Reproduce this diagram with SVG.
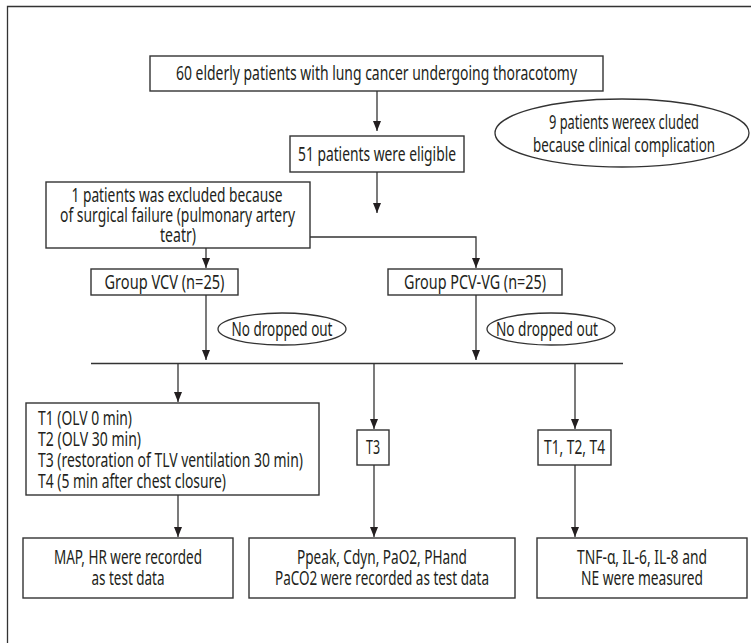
<svg xmlns="http://www.w3.org/2000/svg" width="751" height="643" viewBox="0 0 751 643">
<defs>
<marker id="ah" viewBox="0 0 10 8" refX="10" refY="4" markerWidth="10" markerHeight="8" markerUnits="userSpaceOnUse" orient="auto">
<path d="M0,0 L10,4 L0,8 Z" fill="#231f20"/>
</marker>
</defs>
<style>
.box{fill:#fff;stroke:#333;stroke-width:1.4}
.ell{fill:#fff;stroke:#333;stroke-width:1.3}
.ln{fill:none;stroke:#333;stroke-width:1.3}
.ar{fill:none;stroke:#333;stroke-width:1.3;marker-end:url(#ah)}
text{font-family:"Noto Sans","Liberation Sans",sans-serif;font-size:19px;fill:#231f20}
.c{text-anchor:middle}
</style>
<rect width="751" height="643" fill="#fff"/>
<g id="frame"><path class="ln" d="M7.5,643 V6.5 H751" stroke="#555"/></g>
<g id="connectors">
<line class="ar" x1="377" y1="91" x2="377" y2="131"/>
<line class="ar" x1="377" y1="172" x2="377" y2="213"/>
<line class="ar" x1="206" y1="248" x2="206" y2="268"/>
<polyline class="ar" points="310,237 476,237 476,268"/>
<line class="ar" x1="206" y1="295" x2="206" y2="360"/>
<line class="ar" x1="476" y1="295" x2="476" y2="360"/>
<line class="ln" x1="91" y1="363.5" x2="623" y2="363.5"/>
<line class="ar" x1="178" y1="363.5" x2="178" y2="402"/>
<line class="ar" x1="374" y1="363.5" x2="374" y2="429"/>
<line class="ar" x1="575" y1="363.5" x2="575" y2="429"/>
<line class="ar" x1="178" y1="495" x2="178" y2="537"/>
<line class="ar" x1="374" y1="465" x2="374" y2="537"/>
<line class="ar" x1="575" y1="465" x2="575" y2="537"/>
</g>
<g id="n_start">
<rect class="box" x="150" y="56" width="453" height="35"/>
<text class="c" transform="scale(0.75,1)" x="502" y="80.5" textLength="534.67" lengthAdjust="spacingAndGlyphs">60 elderly patients with lung cancer undergoing thoracotomy</text>
</g>
<g id="n_excl9">
<ellipse class="ell" cx="622" cy="133" rx="127" ry="34"/>
<text class="c" transform="scale(0.75,1)" x="832" y="129.5" textLength="200" lengthAdjust="spacingAndGlyphs">9 patients wereex cluded</text>
<text class="c" transform="scale(0.75,1)" x="832" y="152.5" textLength="242.67" lengthAdjust="spacingAndGlyphs">because clinical complication</text>
</g>
<g id="n_eligible">
<rect class="box" x="290" y="136" width="174" height="36"/>
<text class="c" transform="scale(0.75,1)" x="502.67" y="161" textLength="210.67" lengthAdjust="spacingAndGlyphs">51 patients were eligible</text>
</g>
<g id="n_excl1">
<rect class="box" x="46" y="182" width="264" height="66"/>
<text class="c" transform="scale(0.75,1)" x="236" y="202" textLength="281.33" lengthAdjust="spacingAndGlyphs">1 patients was excluded because</text>
<text class="c" transform="scale(0.75,1)" x="236.67" y="222" textLength="313.33" lengthAdjust="spacingAndGlyphs">of surgical failure (pulmonary artery</text>
<text class="c" transform="scale(0.75,1)" x="237.33" y="242" textLength="48" lengthAdjust="spacingAndGlyphs">teatr)</text>
</g>
<g id="n_vcv">
<rect class="box" x="91" y="269" width="147" height="26"/>
<text class="c" transform="scale(0.75,1)" x="219.33" y="289" textLength="160" lengthAdjust="spacingAndGlyphs">Group VCV (n=25)</text>
</g>
<g id="n_pcv">
<rect class="box" x="388" y="269" width="174" height="26"/>
<text class="c" transform="scale(0.75,1)" x="633.33" y="289" textLength="189.33" lengthAdjust="spacingAndGlyphs">Group PCV-VG (n=25)</text>
</g>
<g id="n_drop1">
<ellipse class="ell" cx="282" cy="329" rx="64" ry="16"/>
<text class="c" transform="scale(0.75,1)" x="376" y="336" textLength="134.67" lengthAdjust="spacingAndGlyphs">No dropped out</text>
</g>
<g id="n_drop2">
<ellipse class="ell" cx="551" cy="329" rx="64" ry="16"/>
<text class="c" transform="scale(0.75,1)" x="729.33" y="336" textLength="136" lengthAdjust="spacingAndGlyphs">No dropped out</text>
</g>
<g id="n_times">
<rect class="box" x="26" y="403" width="293" height="92"/>
<text transform="scale(0.75,1)" x="50.67" y="425" textLength="125.33" lengthAdjust="spacingAndGlyphs">T1 (OLV 0 min)</text>
<text transform="scale(0.75,1)" x="50.67" y="446" textLength="137.33" lengthAdjust="spacingAndGlyphs">T2 (OLV 30 min)</text>
<text transform="scale(0.75,1)" x="50.67" y="467" textLength="353.33" lengthAdjust="spacingAndGlyphs">T3 (restoration of TLV ventilation 30 min)</text>
<text transform="scale(0.75,1)" x="50.67" y="488" textLength="250.67" lengthAdjust="spacingAndGlyphs">T4 (5 min after chest closure)</text>
</g>
<g id="n_t3">
<rect class="box" x="357" y="430" width="32" height="35"/>
<text class="c" transform="scale(0.75,1)" x="497.33" y="454.5" textLength="18.67" lengthAdjust="spacingAndGlyphs">T3</text>
</g>
<g id="n_t124">
<rect class="box" x="538" y="430" width="73" height="35"/>
<text class="c" transform="scale(0.75,1)" x="766" y="454.5" textLength="81.33" lengthAdjust="spacingAndGlyphs">T1, T2, T4</text>
</g>
<g id="n_map">
<rect class="box" x="23" y="538" width="210" height="60"/>
<text class="c" transform="scale(0.75,1)" x="170.67" y="564.5" textLength="197.33" lengthAdjust="spacingAndGlyphs">MAP, HR were recorded</text>
<text class="c" transform="scale(0.75,1)" x="170.67" y="585.5" textLength="97.33" lengthAdjust="spacingAndGlyphs">as test data</text>
</g>
<g id="n_ppeak">
<rect class="box" x="249" y="538" width="266" height="60"/>
<text class="c" transform="scale(0.75,1)" x="509.33" y="564.5" textLength="226.67" lengthAdjust="spacingAndGlyphs">Ppeak, Cdyn, PaO2, PHand</text>
<text class="c" transform="scale(0.75,1)" x="509.33" y="585.5" textLength="285.33" lengthAdjust="spacingAndGlyphs">PaCO2 were recorded as test data</text>
</g>
<g id="n_tnf">
<rect class="box" x="537" y="538" width="210" height="60"/>
<text class="c" transform="scale(0.75,1)" x="856" y="564.5" textLength="173.33" lengthAdjust="spacingAndGlyphs">TNF-α, IL-6, IL-8 and</text>
<text class="c" transform="scale(0.75,1)" x="856" y="585.5" textLength="162.67" lengthAdjust="spacingAndGlyphs">NE were measured</text>
</g>
</svg>
